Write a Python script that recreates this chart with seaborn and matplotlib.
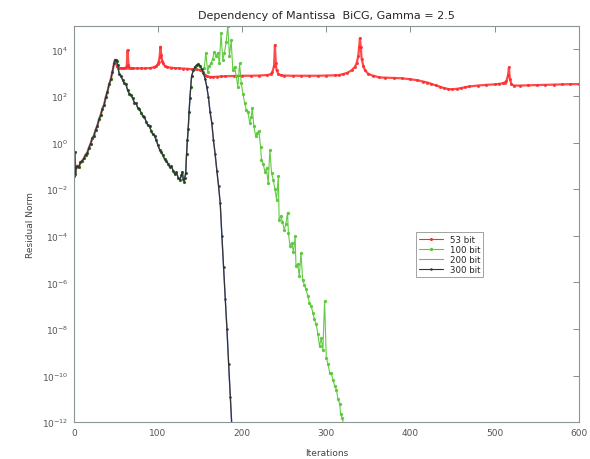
import numpy as np
import pandas as pd
import matplotlib
matplotlib.use("Agg")
import matplotlib.pyplot as plt
import seaborn as sns

# ---------------- data (log10 of residual norm) ----------------
# common start (all precisions identical up to ~50 iterations)
common_it = [0, 1, 2, 3, 4, 6, 8, 10, 12, 14, 16, 18, 20, 22, 24, 26, 28, 30, 32, 34,
             36, 38, 40, 42, 44, 46, 48, 49, 50]
common_log = [-1.45, -0.40, -1.35, -1.05, -1.00, -1.05, -0.85, -0.78, -0.68, -0.52,
              -0.45, -0.22, -0.05, 0.18, 0.30, 0.55, 0.72, 1.00, 1.18, 1.45, 1.62,
              1.95, 2.18, 2.50, 2.72, 3.05, 3.42, 3.55, 3.55]

# 300 bit (and 200 bit) after iteration 50
hi_it = [51, 52, 54, 56, 58, 60, 62, 64, 66, 68, 70, 72, 74, 76, 78, 80, 82, 84, 86,
         88, 90, 92, 94, 96, 98, 100, 102, 104, 106, 108, 110, 112, 114, 116, 118,
         120, 122, 124, 126, 128, 129, 130, 131, 132, 133, 134, 135, 136, 137, 138,
         139, 140, 142, 144, 146, 148, 150, 152, 154, 156, 158, 160, 162, 164, 166,
         168, 170, 172, 174, 176, 178, 180, 182, 184, 186, 188]
hi_log = [3.50, 3.35, 2.95, 2.85, 2.70, 2.55, 2.50, 2.25, 2.10, 2.05, 1.90, 1.72,
          1.68, 1.50, 1.45, 1.28, 1.15, 1.10, 0.90, 0.75, 0.70, 0.50, 0.35, 0.30,
          0.10, -0.10, -0.30, -0.40, -0.55, -0.72, -0.80, -0.90, -1.05, -1.00, -1.20,
          -1.35, -1.28, -1.50, -1.60, -1.40, -1.25, -1.55, -1.67, -1.50, -1.30, -0.50,
          0.10, 0.60, 1.30, 1.90, 2.40, 2.85, 3.10, 3.25, 3.33, 3.37, 3.30, 3.15,
          3.00, 2.75, 2.40, 1.95, 1.30, 0.85, 0.10, -0.50, -1.20, -1.85, -2.60,
          -4.00, -5.35, -6.70, -8.00, -9.50, -10.90, -12.30]

# 100 bit after iteration 152
mid_it = [153, 155, 157, 159, 161, 163, 165, 167, 169, 171, 173, 175, 177, 179, 181,
          183, 185, 187, 189, 191, 193, 195, 197, 199, 201, 203, 205, 207, 209, 211,
          212, 214, 216, 218, 220, 222, 223, 225, 227, 229, 231, 233, 235, 237, 239,
          241, 243, 244, 246, 248, 250, 252, 254, 255, 257, 259, 261, 263, 264, 266,
          268, 270, 272, 274, 276, 278, 280, 282, 284, 286, 288, 290, 292, 294, 296,
          298, 300, 302, 304, 306, 308, 310, 312, 314, 316, 317, 319, 321]
mid_log = [3.05, 3.20, 3.85, 3.05, 3.30, 3.40, 3.60, 3.90, 3.70, 3.85, 3.40, 4.70,
           3.55, 3.85, 4.30, 5.00, 3.70, 4.40, 3.10, 3.26, 2.85, 2.40, 3.40, 2.55,
           2.10, 1.70, 1.40, 1.30, 0.85, 1.10, 1.50, 0.70, 0.30, 0.40, 0.50, -0.20,
           -0.74, -0.90, -1.24, -1.10, -1.74, -0.31, -1.31, -1.60, -2.00, -2.45,
           -1.45, -3.30, -3.17, -3.40, -3.73, -3.50, -3.00, -3.90, -4.45, -4.30,
           -4.70, -4.02, -5.30, -5.20, -5.73, -4.73, -5.90, -6.10, -6.30, -6.60,
           -6.88, -7.00, -7.30, -7.59, -7.80, -8.20, -8.73, -8.40, -8.90, -6.80,
           -9.23, -9.50, -9.87, -9.90, -10.20, -10.44, -10.60, -11.02, -11.20,
           -11.66, -11.80, -12.20]

# 53 bit after iteration 50
low_it = [51, 52, 54, 56, 58, 60, 62, 63, 64, 65, 66, 68, 70, 75, 80, 85, 90, 95, 98,
          100, 101, 102, 103, 104, 105, 106, 108, 111, 115, 120, 125, 130, 135, 140,
          145, 150, 153, 156, 158, 162, 166, 170, 175, 180, 190, 200, 210, 220, 230,
          234, 236, 238, 239, 240, 241, 243, 246, 250, 260, 270, 280, 290, 300, 310,
          315, 320, 325, 330, 334, 336, 338, 339, 340, 341, 342, 344, 346, 350, 355,
          363, 370, 380, 390, 400, 408, 415, 420, 425, 430, 435, 440, 445, 449, 455,
          460, 465, 470, 480, 490, 500, 505, 510, 512, 514, 516, 517, 518, 520, 523,
          530, 540, 550, 560, 570, 580, 590, 600]
low_log = [3.30, 3.22, 3.20, 3.20, 3.19, 3.20, 3.22, 3.30, 3.97, 3.35, 3.22, 3.20,
           3.19, 3.19, 3.19, 3.19, 3.20, 3.23, 3.28, 3.38, 3.48, 3.68, 4.12, 3.75,
           3.50, 3.40, 3.30, 3.25, 3.22, 3.20, 3.19, 3.18, 3.17, 3.15, 3.14, 3.12,
           3.05, 2.90, 2.84, 2.82, 2.82, 2.83, 2.84, 2.85, 2.86, 2.87, 2.87, 2.88,
           2.90, 2.94, 3.03, 3.30, 4.19, 3.40, 3.10, 2.95, 2.90, 2.88, 2.87, 2.87,
           2.87, 2.87, 2.88, 2.89, 2.90, 2.94, 3.00, 3.10, 3.25, 3.40, 3.70, 4.10,
           4.48, 4.10, 3.60, 3.30, 3.10, 2.95, 2.88, 2.80, 2.79, 2.78, 2.76, 2.72,
           2.68, 2.62, 2.58, 2.52, 2.46, 2.40, 2.34, 2.30, 2.29, 2.31, 2.34, 2.38,
           2.41, 2.45, 2.48, 2.50, 2.52, 2.55, 2.58, 2.65, 2.90, 3.23, 2.75, 2.50,
           2.45, 2.45, 2.46, 2.47, 2.48, 2.49, 2.50, 2.51, 2.51]

series_labels = ["53 bit", "100 bit", "200 bit", "300 bit"]
series_colors = ["#ff2b2b", "#5cc83a", "#7f95e6", "#333333"]
x_ticks = [0, 100, 200, 300, 400, 500, 600]
y_ticks = [1e-12, 1e-10, 1e-8, 1e-6, 1e-4, 1e-2, 1e0, 1e2, 1e4]

# ---------------- assemble series ----------------
hi_green_cut = 152
green_it = common_it + [i for i in hi_it if i <= hi_green_cut] + mid_it
green_log = common_log + [v for i, v in zip(hi_it, hi_log) if i <= hi_green_cut] + mid_log
series = {
    "53 bit": (common_it + low_it, common_log + low_log),
    "100 bit": (green_it, green_log),
    "200 bit": (common_it + hi_it, common_log + hi_log),
    "300 bit": (common_it + hi_it, common_log + hi_log),
}

frames = []
for lab in series_labels:
    it, lg = series[lab]
    frames.append(pd.DataFrame({"Iterations": it,
                                "Residual": 10.0 ** np.array(lg),
                                "series": lab}))
df = pd.concat(frames, ignore_index=True)

# ---------------- plot ----------------
sns.set_style("white")
plt.rcParams["font.family"] = ["DejaVu Sans"]

fig = plt.figure(figsize=(5.9, 4.6), dpi=100)
ax = fig.add_axes([0.125, 0.08, 0.856, 0.861])

styles = {
    "53 bit": dict(marker="o", markersize=2.2, linewidth=1.6, alpha=0.85),
    "100 bit": dict(marker="o", markersize=2.4, linewidth=0.8, alpha=0.95),
    "200 bit": dict(marker="", markersize=0, linewidth=1.0, alpha=1.0),
    "300 bit": dict(marker="o", markersize=1.8, linewidth=0.9, alpha=1.0),
}
for lab, col in zip(series_labels, series_colors):
    sub = df[df["series"] == lab]
    st = styles[lab]
    sns.lineplot(data=sub, x="Iterations", y="Residual", ax=ax, color=col,
                 estimator=None, sort=False, label=lab,
                 marker=st["marker"], markersize=st["markersize"],
                 markeredgewidth=0, linewidth=st["linewidth"], alpha=st["alpha"])

ax.set_yscale("log")
ax.set_xlim(0, 600)
ax.set_ylim(1e-12, 1e5)
ax.set_xticks(x_ticks)
ax.set_yticks(y_ticks)
ax.minorticks_off()
ax.tick_params(direction="in", length=4, width=0.6, top=True, right=True,
               labelsize=6.5, labelcolor="#555555", color="#777777", pad=4)
for sp in ax.spines.values():
    sp.set_color("#8a9696")
    sp.set_linewidth(0.8)

ax.set_xlabel("Iterations", fontsize=6.5, color="#444444", labelpad=8)
ax.set_ylabel("Residual Norm", fontsize=6.5, color="#444444", labelpad=5)
ax.set_title("Dependency of Mantissa  BiCG, Gamma = 2.5", fontsize=8, pad=6)

leg = ax.legend(loc="upper left", bbox_to_anchor=(0.677, 0.48), fontsize=6.2,
                frameon=True, fancybox=False, edgecolor="#777777",
                handlelength=2.8, borderpad=0.35, labelspacing=0.1,
                handletextpad=0.8, borderaxespad=0.0)
leg.get_frame().set_linewidth(0.6)
for h in leg.legend_handles:
    h.set_linewidth(0.8)
    h.set_alpha(1.0)

fig.savefig("out.png", dpi=100)
